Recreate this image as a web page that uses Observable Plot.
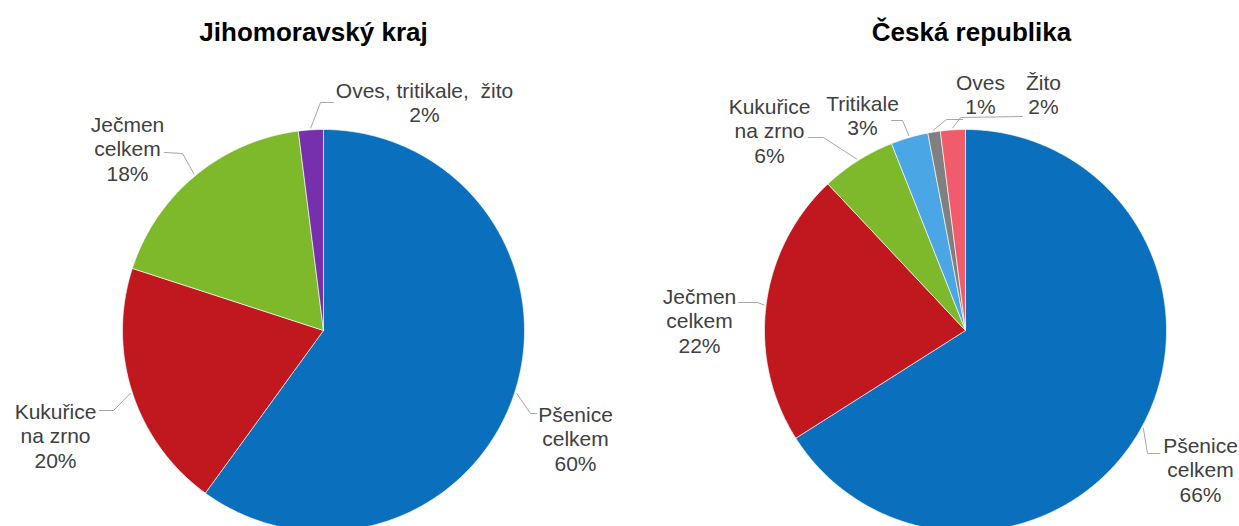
<!DOCTYPE html>
<html>
<head>
<meta charset="utf-8">
<script src="https://cdn.jsdelivr.net/npm/d3@7"></script>
<script src="https://cdn.jsdelivr.net/npm/@observablehq/plot@0.6"></script>
<style>
  html, body { margin: 0; padding: 0; background: #fff; }
  #chart svg { display: block; }
</style>
</head>
<body>
<div id="chart"></div>
<script>
// ---- data ----
const titles = ["Jihomoravský kraj", "Česká republika"];

const jmkCategories = ["Pšenice\ncelkem", "Kukuřice\nna zrno", "Ječmen\ncelkem", "Oves, tritikale,  žito"];
const jmkValues = [60, 20, 18, 2];

const crCategories = ["Pšenice\ncelkem", "Ječmen\ncelkem", "Kukuřice\nna zrno", "Tritikale", "Oves", "Žito"];
const crValues = [66, 22, 6, 3, 1, 2];

// ---- styles ----
const jmkColors = ["#0a70be", "#c1171e", "#7db92b", "#7630ae"];
const crColors = ["#0a70be", "#c1171e", "#7db92b", "#4ba6e6", "#808080", "#f05c6b"];

// ---- layout (pixels) ----
const W = 1239, H = 526;
const pieLayout = [
  {cx: 323, cy: 330, r: 201, titleX: 313},
  {cx: 965, cy: 330, r: 201, titleX: 971}
];
const titleY = 32;
// per slice: label centre, leader end (at label), leader elbow
const jmkLabelPos = [
  {lx: 575, ly: 438, ex: 536, ey: 413, bx: 530, by: 413},
  {lx: 55, ly: 435, ex: 99, ey: 410, bx: 113, by: 410},
  {lx: 127, ly: 148, ex: 164, ey: 152, bx: 182, by: 153},
  {lx: 424, ly: 102, ex: 333, ey: 102, bx: 320, by: 102}
];
const crLabelPos = [
  {lx: 1200, ly: 469, ex: 1159, ey: 453, bx: 1147, by: 453},
  {lx: 699, ly: 320, ex: 738, ey: 302, bx: 757, by: 302},
  {lx: 769, ly: 130, ex: 808, ey: 137, bx: 823, by: 137},
  {lx: 862, ly: 115, ex: 891, ey: 120, bx: 902, by: 120},
  {lx: 980, ly: 94, ex: 962, ey: 119, bx: 946, by: 119},
  {lx: 1043, ly: 94, ex: 1022, ey: 116, bx: 960, by: 117}
];

const pieSets = [
  {cats: jmkCategories, vals: jmkValues, colors: jmkColors, pos: jmkLabelPos},
  {cats: crCategories, vals: crValues, colors: crColors, pos: crLabelPos}
];

const slicePts = [], leaderPts = [], labels = [], titleRows = [];
const pie = d3.pie().sort(null).value(d => d);

pieSets.forEach((set, p) => {
  const {cx, cy, r} = pieLayout[p];
  titleRows.push({x: pieLayout[p].titleX, y: titleY, text: titles[p]});
  const arcs = pie(set.vals);
  arcs.forEach((a, i) => {
    const id = p + "-" + i;
    const color = set.colors[i];
    slicePts.push({id, color, x: cx, y: cy});
    const n = Math.max(2, Math.ceil((a.endAngle - a.startAngle) / (Math.PI / 360)));
    for (let k = 0; k <= n; k++) {
      const t = a.startAngle + (a.endAngle - a.startAngle) * k / n;
      slicePts.push({id, color, x: cx + r * Math.sin(t), y: cy - r * Math.cos(t)});
    }
    slicePts.push({id, color, x: cx, y: cy});
    const mid = (a.startAngle + a.endAngle) / 2;
    const lp = set.pos[i];
    leaderPts.push({id, x: lp.ex, y: lp.ey});
    leaderPts.push({id, x: lp.bx, y: lp.by});
    leaderPts.push({id, x: cx + (r + 2) * Math.sin(mid), y: cy - (r + 2) * Math.cos(mid)});
    labels.push({x: lp.lx, y: lp.ly, text: set.cats[i] + "\n" + set.vals[i] + "%"});
  });
});

const font = "'Liberation Sans', Arial, sans-serif";

const chart = Plot.plot({
  width: W,
  height: H,
  margin: 0,
  x: {domain: [0, W], range: [0, W], axis: null},
  y: {domain: [0, H], range: [0, H], axis: null},
  style: {fontFamily: font, background: "#fff"},
  marks: [
    Plot.line(slicePts, {x: "x", y: "y", z: "id", fill: "color", stroke: "#ffffff", strokeWidth: 0.8, strokeOpacity: 0.8, curve: "linear"}),
    Plot.line(leaderPts, {x: "x", y: "y", z: "id", stroke: "#a6a6a6", strokeWidth: 1, curve: "linear"}),
    Plot.text(labels, {x: "x", y: "y", text: "text", fontSize: 21, lineHeight: 1.16, fill: "#404040", fontFamily: font}),
    Plot.text(titleRows, {x: "x", y: "y", text: "text", fontSize: 26, fontWeight: "bold", fill: "#000", fontFamily: font})
  ]
});
document.getElementById("chart").appendChild(chart);
</script>
</body>
</html>
